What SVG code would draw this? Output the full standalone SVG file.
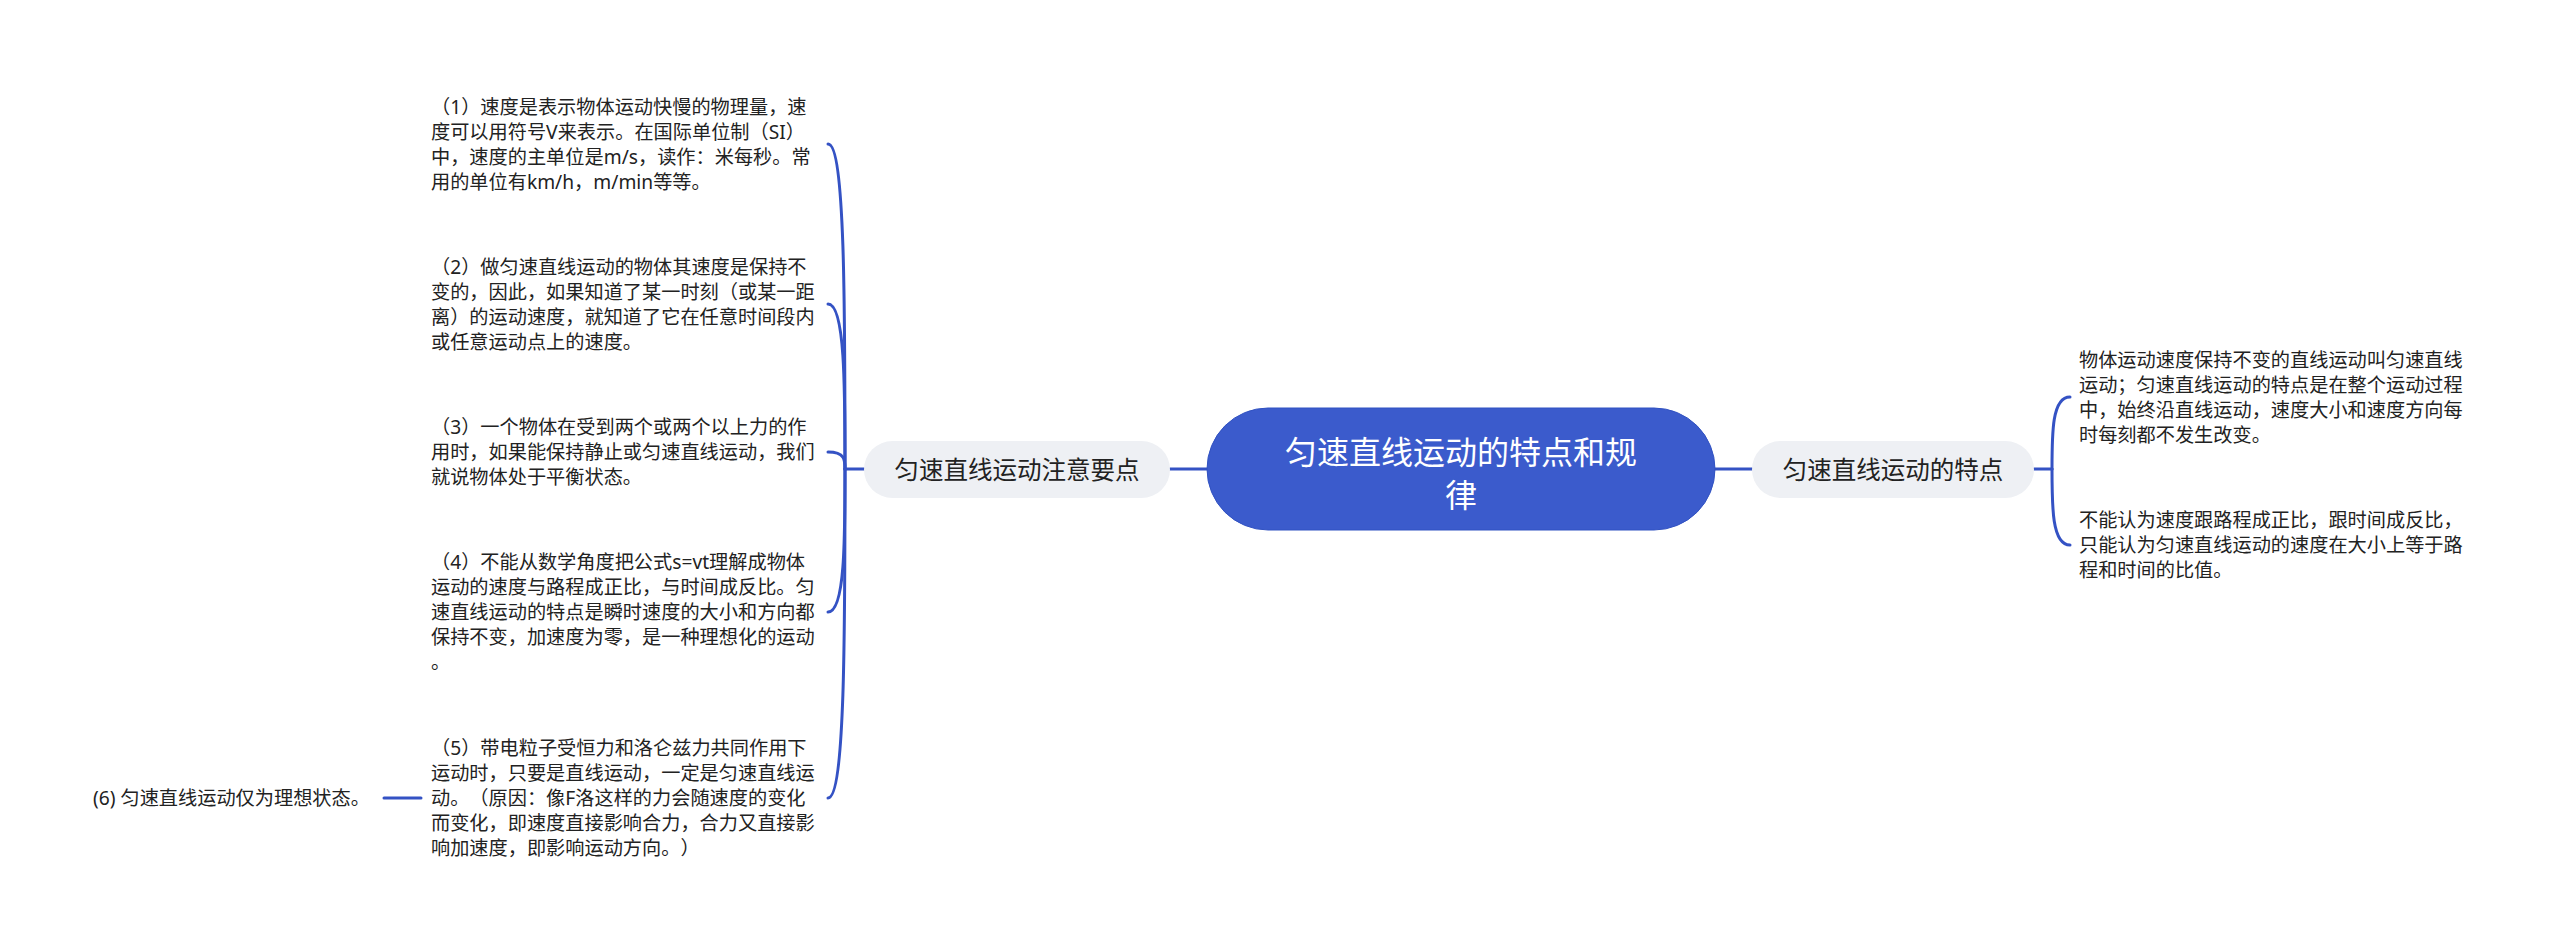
<svg xmlns="http://www.w3.org/2000/svg" width="2560" height="952" viewBox="0 0 2560 952">
<style>
text{text-spacing-trim:space-all}
.leaf{font-family:"Noto Sans","Noto Sans CJK SC",sans-serif;font-size:19.2px;fill:#222}
.br{font-family:"Noto Sans","Noto Sans CJK SC",sans-serif;font-size:24.5px;fill:#222;text-anchor:middle}
.rt{font-family:"Noto Sans","Noto Sans CJK SC",sans-serif;font-size:32px;fill:#fff;text-anchor:middle}
.brbox{fill:#eef0f4}
.conn path,.conn line{fill:none;stroke:#3452c4;stroke-width:3;stroke-linecap:round}
</style>
<rect width="2560" height="952" fill="#fff"/>
<g class="conn" id="connectors">
<line x1="1170" y1="469" x2="1208" y2="469"/>
<line x1="1714" y1="469" x2="1752" y2="469"/>
<line x1="845" y1="469" x2="864" y2="469"/>
<path d="M845 469 C845 306 845 144 828 144"/>
<path d="M845 469 C845 386 845 304 828 304"/>
<path d="M845 469 C845 460 845 452 828 452"/>
<path d="M845 469 C845 540 845 612 828 612"/>
<path d="M845 469 C845 633 845 798 828 798"/>
<line x1="384" y1="798" x2="421" y2="798"/>
<line x1="2034" y1="469" x2="2052" y2="469"/>
<path d="M2052 469 C2052 433 2052 397 2070 397"/>
<path d="M2052 469 C2052 507 2052 545 2070 545"/>
</g>
<g id="root">
<rect x="1207" y="408" width="508" height="122" rx="61" fill="#3b5bcc" stroke="#3152c2" stroke-width="1"/>
<text class="rt" x="1461" y="464">匀速直线运动的特点和规</text>
<text class="rt" x="1461" y="507">律</text>
</g>
<g id="branch-left">
<rect class="brbox" x="864" y="441" width="306" height="57" rx="28.5"/>
<text class="br" x="1017" y="479">匀速直线运动注意要点</text>
</g>
<g id="branch-right">
<rect class="brbox" x="1752" y="441" width="282" height="57" rx="28.5"/>
<text class="br" x="1893" y="479">匀速直线运动的特点</text>
</g>
<g id="leaf1">
<text class="leaf" x="431" y="114">（1）速度是表示物体运动快慢的物理量，速</text>
<text class="leaf" x="431" y="139">度可以用符号V来表示。在国际单位制（SI）</text>
<text class="leaf" x="431" y="164">中，速度的主单位是m/s，读作：米每秒。常</text>
<text class="leaf" x="431" y="189">用的单位有km/h，m/min等等。</text>
</g>
<g id="leaf2">
<text class="leaf" x="431" y="274">（2）做匀速直线运动的物体其速度是保持不</text>
<text class="leaf" x="431" y="299">变的，因此，如果知道了某一时刻（或某一距</text>
<text class="leaf" x="431" y="324">离）的运动速度，就知道了它在任意时间段内</text>
<text class="leaf" x="431" y="349">或任意运动点上的速度。</text>
</g>
<g id="leaf3">
<text class="leaf" x="431" y="434">（3）一个物体在受到两个或两个以上力的作</text>
<text class="leaf" x="431" y="459">用时，如果能保持静止或匀速直线运动，我们</text>
<text class="leaf" x="431" y="484">就说物体处于平衡状态。</text>
</g>
<g id="leaf4">
<text class="leaf" x="431" y="569">（4）不能从数学角度把公式s=vt理解成物体</text>
<text class="leaf" x="431" y="594">运动的速度与路程成正比，与时间成反比。匀</text>
<text class="leaf" x="431" y="619">速直线运动的特点是瞬时速度的大小和方向都</text>
<text class="leaf" x="431" y="644">保持不变，加速度为零，是一种理想化的运动</text>
<text class="leaf" x="431" y="669">。</text>
</g>
<g id="leaf5">
<text class="leaf" x="431" y="755">（5）带电粒子受恒力和洛仑兹力共同作用下</text>
<text class="leaf" x="431" y="780">运动时，只要是直线运动，一定是匀速直线运</text>
<text class="leaf" x="431" y="805">动。（原因：像F洛这样的力会随速度的变化</text>
<text class="leaf" x="431" y="830">而变化，即速度直接影响合力，合力又直接影</text>
<text class="leaf" x="431" y="855">响加速度，即影响运动方向。）</text>
</g>
<g id="leaf6">
<text class="leaf" x="93" y="805">(6) 匀速直线运动仅为理想状态。</text>
</g>
<g id="leaf-r1">
<text class="leaf" x="2079" y="367">物体运动速度保持不变的直线运动叫匀速直线</text>
<text class="leaf" x="2079" y="392">运动；匀速直线运动的特点是在整个运动过程</text>
<text class="leaf" x="2079" y="417">中，始终沿直线运动，速度大小和速度方向每</text>
<text class="leaf" x="2079" y="442">时每刻都不发生改变。</text>
</g>
<g id="leaf-r2">
<text class="leaf" x="2079" y="527">不能认为速度跟路程成正比，跟时间成反比，</text>
<text class="leaf" x="2079" y="552">只能认为匀速直线运动的速度在大小上等于路</text>
<text class="leaf" x="2079" y="577">程和时间的比值。</text>
</g>
</svg>
